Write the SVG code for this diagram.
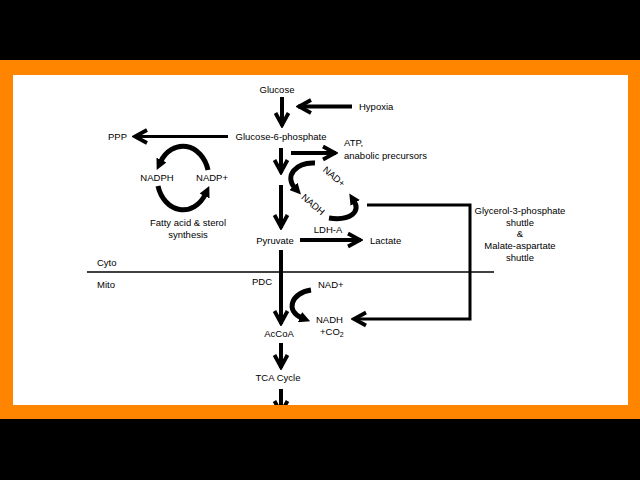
<svg xmlns="http://www.w3.org/2000/svg" width="640" height="480" viewBox="0 0 640 480">
<defs>
<style>
text{font-family:"Liberation Sans",Arial,sans-serif;font-size:9.5px;fill:#000}
.c{text-anchor:middle}
.ar{fill:none;stroke:#000;stroke-width:4}
.thin{fill:none;stroke:#000;stroke-width:3}
.arc{fill:none;stroke:#000;stroke-width:5}
</style>
<marker id="chev" viewBox="-16 -10 18 20" refX="0" refY="0" markerUnits="userSpaceOnUse" markerWidth="18" markerHeight="20" orient="auto">
<path d="M-13,-6.5 L-1,0 L-13,6.5" fill="none" stroke="#000" stroke-width="3.8" stroke-linejoin="miter"/>
</marker>
<marker id="tri" viewBox="0 0 10 10" refX="2" refY="5" markerUnits="userSpaceOnUse" markerWidth="11" markerHeight="11" orient="auto">
<path d="M0,0 L10,5 L0,10 z" fill="#000"/>
</marker>
<clipPath id="clip"><rect x="13" y="75" width="615" height="330"/></clipPath>
</defs>
<rect width="640" height="480" fill="#000"/>
<rect x="0" y="60" width="640" height="359" fill="#FF8500"/>
<rect x="13" y="75" width="615" height="330" fill="#fff"/>
<g clip-path="url(#clip)">
<g id="connectors">
<path class="ar" d="M282,97 V126" marker-end="url(#chev)"/>
<path class="ar" d="M352,106.5 H298" marker-end="url(#chev)"/>
<path class="thin" d="M228,136.5 H134" marker-end="url(#chev)"/>
<path class="ar" d="M291,153 H336" marker-end="url(#chev)"/>
<path class="ar" d="M281,148 V173" marker-end="url(#chev)"/>
<path class="ar" d="M281,185 V228" marker-end="url(#chev)"/>
<path class="ar" d="M300,240 H361" marker-end="url(#chev)"/>
<path class="ar" d="M281,250 V324" marker-end="url(#chev)"/>
<path class="thin" d="M367,205 H470 V319 H353" marker-end="url(#chev)"/>
<path class="ar" d="M281,343 V368" marker-end="url(#chev)"/>
<path class="ar" d="M281,389 V414" marker-end="url(#chev)"/>
<path d="M87,272 H494" stroke="#000" stroke-width="1.3"/>
<path class="arc" d="M208,170 A26 32 0 0 0 160.5,162" marker-end="url(#tri)"/>
<path class="arc" d="M158,186 A26 32 0 0 0 205.5,194" marker-end="url(#tri)"/>
<path class="arc" d="M315,163 C296,162 284,176 295,188" marker-end="url(#tri)"/>
<path class="arc" d="M329,218 C350,221 361,212 354,201" marker-end="url(#tri)"/>
<path class="arc" d="M311,290 C291,293 285,311 302,318" marker-end="url(#tri)"/>
</g>
</g>
<g id="glucose"><text class="c" x="277" y="93">Glucose</text></g>
<g id="hypoxia"><text x="359" y="110">Hypoxia</text></g>
<g id="g6p"><text class="c" x="281" y="139.5">Glucose-6-phosphate</text></g>
<g id="ppp"><text x="108" y="140">PPP</text></g>
<g id="atp"><text x="344" y="146">ATP,</text><text x="344" y="158.5">anabolic precursors</text></g>
<g id="nadph"><text class="c" x="157" y="181">NADPH</text></g>
<g id="nadpplus"><text class="c" x="212" y="181">NADP+</text></g>
<g id="fatty"><text class="c" x="188" y="226">Fatty acid &amp; sterol</text><text class="c" x="188" y="237.5">synthesis</text></g>
<g id="nadplus1"><text class="c" transform="translate(332,179) rotate(40)">NAD+</text></g>
<g id="nadh1"><text class="c" transform="translate(311,207) rotate(40)">NADH</text></g>
<g id="ldha"><text class="c" x="328" y="233">LDH-A</text></g>
<g id="pyruvate"><text class="c" x="275" y="243.5">Pyruvate</text></g>
<g id="lactate"><text x="370" y="243.5">Lactate</text></g>
<g id="shuttle"><text class="c" x="520" y="214">Glycerol-3-phosphate</text><text class="c" x="520" y="225.5">shuttle</text><text class="c" x="520" y="237">&amp;</text><text class="c" x="520" y="249">Malate-aspartate</text><text class="c" x="520" y="260.5">shuttle</text></g>
<g id="cyto"><text x="97" y="265.5">Cyto</text></g>
<g id="mito"><text x="97" y="287.5">Mito</text></g>
<g id="pdc"><text x="252" y="285">PDC</text></g>
<g id="nadplus2"><text x="318" y="288">NAD+</text></g>
<g id="nadh2"><text x="316" y="323">NADH</text><text x="320" y="335">+CO<tspan font-size="7" dy="2">2</tspan></text></g>
<g id="accoa"><text class="c" x="279" y="337">AcCoA</text></g>
<g id="tca"><text class="c" x="278" y="381">TCA Cycle</text></g>
</svg>
